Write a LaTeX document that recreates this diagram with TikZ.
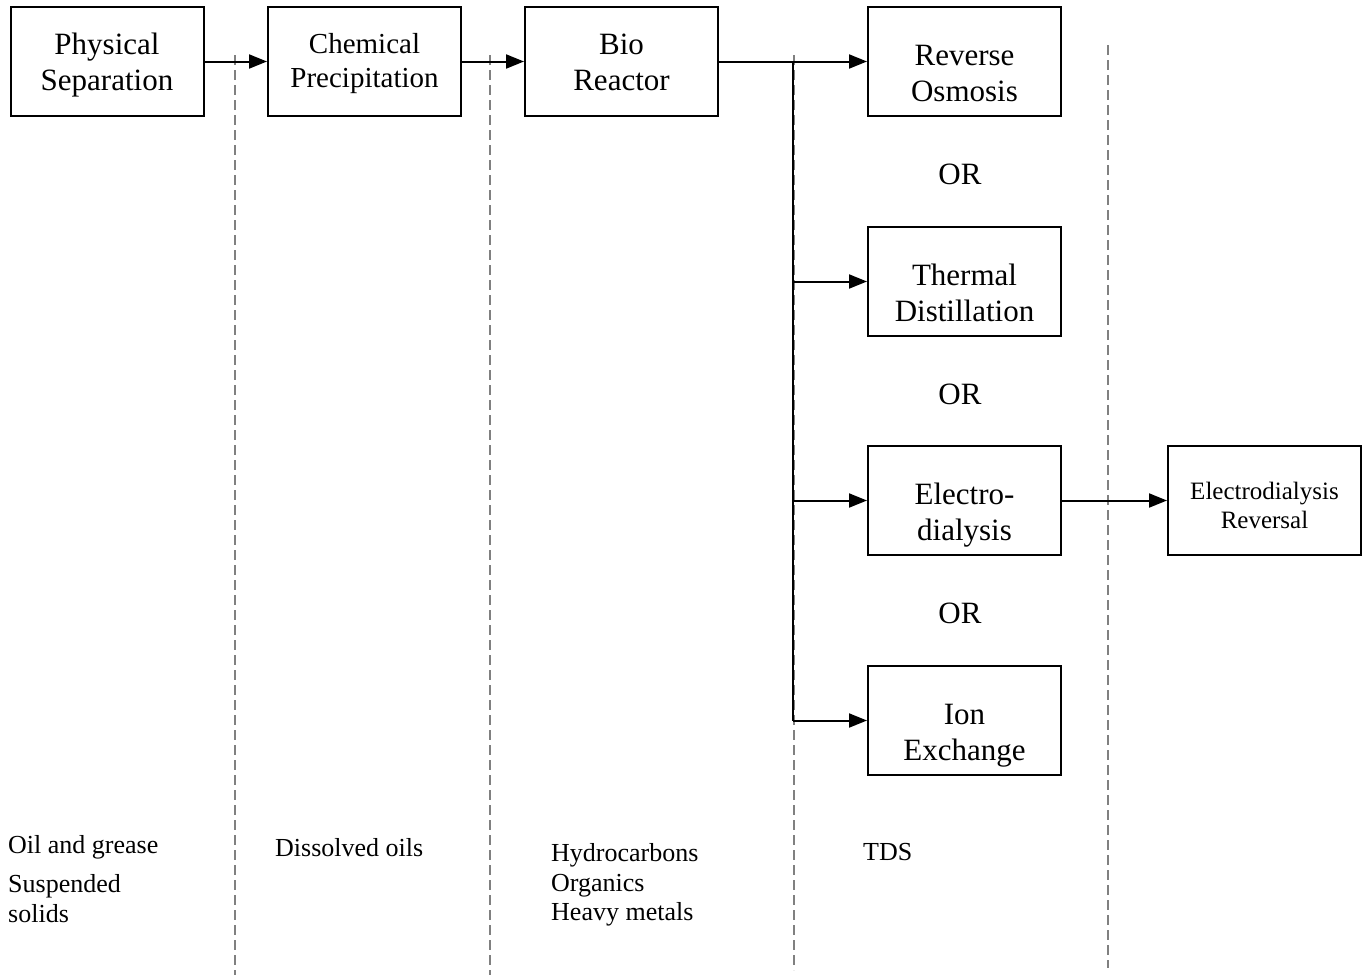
\documentclass[tikz,border=0pt]{standalone}
\usepackage{fontspec}
\setmainfont{Liberation Serif}
\usetikzlibrary{arrows.meta}
\begin{document}
\begin{tikzpicture}[x=1pt,y=-1pt,
 box/.style={draw, line width=2pt, minimum width=193pt, minimum height=109pt, inner sep=0pt},
 boxtext/.style={align=center, font=\fontsize{31}{36}\selectfont, inner sep=0pt},
 flow/.style={line width=2pt, -{Triangle[length=18pt,width=14pt]}},
 plain/.style={line width=2pt},
 sep/.style={draw=gray, line width=2pt, dash pattern=on 10pt off 5pt},
 lbl/.style={anchor=base west, font=\fontsize{26}{30}\selectfont, inner sep=0pt},
 ortext/.style={font=\fontsize{31}{36}\selectfont, inner sep=0pt},
]
\useasboundingbox (0,0) rectangle (1371,975);

% dashed separators
\coordinate (d1t) at (235,55);  \coordinate (d1b) at (235,975);
\coordinate (d2t) at (490,55);  \coordinate (d2b) at (490,975);
\coordinate (d3t) at (794,55);  \coordinate (d3b) at (794,970);
\coordinate (d4t) at (1108,45); \coordinate (d4b) at (1108,968);
\draw[sep] (d1t) -- (d1b);
\draw[sep] (d2t) -- (d2b);
\draw[sep] (d3t) -- (d3b);
\draw[sep] (d4t) -- (d4b);

% boxes
\node[box] (ps)  at (107,61.5) {};
\node[box] (cp)  at (364.5,61.5) {};
\node[box] (br)  at (621.5,61.5) {};
\node[box] (ro)  at (964.5,61.5) {};
\node[box] (td)  at (964.5,281.5) {};
\node[box] (ed)  at (964.5,500.5) {};
\node[box] (ie)  at (964.5,720.5) {};
\node[box] (edr) at (1264.5,500.5) {};

% box texts
\node[boxtext] (pst) at (107,65) {Physical\\Separation};
\node[boxtext, font=\fontsize{29}{34}\selectfont] (cpt) at (364.5,64) {Chemical\\Precipitation};
\node[boxtext] (brt) at (621.5,62) {Bio\\Reactor};
\node[boxtext] (rot) at (964.5,73) {Reverse\\Osmosis};
\node[boxtext] (tdt) at (964.5,293) {Thermal\\Distillation};
\node[boxtext] (edt) at (964.5,515) {Electro-\\dialysis};
\node[boxtext] (iet) at (964.5,736) {Ion\\Exchange};
\node[boxtext, font=\fontsize{25}{29}\selectfont] (edrt) at (1264.5,505) {Electrodialysis\\Reversal};

% OR labels
\node[ortext] (or1) at (960,174) {OR};
\node[ortext] (or2) at (960,394) {OR};
\node[ortext] (or3) at (960,613) {OR};

% connectors
\draw[flow] (ps.east) -- (cp.west);
\draw[flow] (cp.east) -- (br.west);
\draw[flow] (br.east) -- (ro.west);
\coordinate (j) at (793,61.5);
\draw[plain] (j) -- (ie.west -| j);
\draw[flow] (td.west -| j) -- (td.west);
\draw[flow] (ed.west -| j) -- (ed.west);
\draw[flow] (ie.west -| j) -- (ie.west);
\draw[flow] (ed.east) -- (edr.west);

% bottom labels
\node[lbl] (l1) at (8,853) {Oil and grease};
\node[lbl] (l2) at (8,892) {Suspended};
\node[lbl] (l3) at (8,922) {solids};
\node[lbl] (l4) at (275,856) {Dissolved oils};
\node[lbl] (l5) at (551,861) {Hydrocarbons};
\node[lbl] (l6) at (551,891) {Organics};
\node[lbl] (l7) at (551,920) {Heavy metals};
\node[lbl] (l8) at (863,860) {TDS};
\end{tikzpicture}
\end{document}
